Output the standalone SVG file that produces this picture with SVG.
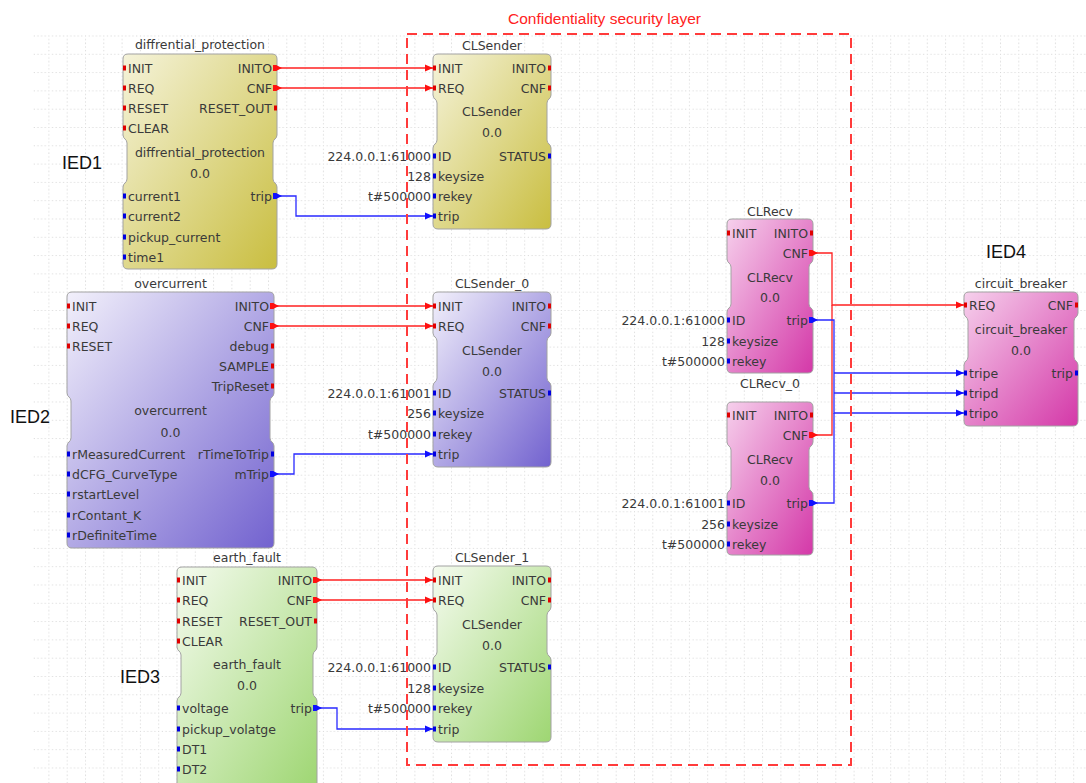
<svg xmlns="http://www.w3.org/2000/svg" width="1086" height="783" viewBox="0 0 1086 783">
<style>
.t{font-family:"DejaVu Sans",sans-serif;font-size:12.5px;fill:#3a3a3a}
.m{text-anchor:middle}
.e{text-anchor:end}
.ied{font-family:"Liberation Sans",Arial,sans-serif;font-size:18px;fill:#111}
.ttl{font-family:"Liberation Sans",Arial,sans-serif;font-size:15.5px;fill:#ff2222}
.blk{stroke:#a2a2a2;stroke-width:1}
.ev{fill:#e00000}
.dt{fill:#0000e0}
.cr{fill:none;stroke:#ff2020;stroke-width:1.3}
.cb{fill:none;stroke:#2a2aff;stroke-width:1.3}
</style>
<defs>
<linearGradient id="gY" x1="0" y1="0" x2="1" y2="1"><stop offset="0" stop-color="#f5f3da"/><stop offset="1" stop-color="#c9be40"/></linearGradient>
<linearGradient id="gP" x1="0" y1="0" x2="1" y2="1"><stop offset="0" stop-color="#f2f0fb"/><stop offset="1" stop-color="#7262cf"/></linearGradient>
<linearGradient id="gG" x1="0" y1="0" x2="1" y2="1"><stop offset="0" stop-color="#f5fbef"/><stop offset="1" stop-color="#9ed672"/></linearGradient>
<linearGradient id="gM" x1="0" y1="0" x2="1" y2="1"><stop offset="0" stop-color="#f6d0ec"/><stop offset="1" stop-color="#d438a8"/></linearGradient>
<pattern id="grid" width="18.3" height="18.3" patternUnits="userSpaceOnUse" x="11.8" y="17.2">
<line x1="0" y1="0.5" x2="18.3" y2="0.5" stroke="#d4d4d4" stroke-width="1" stroke-dasharray="1 2.66"/>
<line x1="0.5" y1="0" x2="0.5" y2="18.3" stroke="#d4d4d4" stroke-width="1" stroke-dasharray="1 2.66"/>
</pattern>
<marker id="aR" markerUnits="userSpaceOnUse" markerWidth="9" markerHeight="9" refX="8" refY="4.5" orient="auto"><path d="M0,1 L8,4.5 L0,8 Z" fill="#ff1010"/></marker>
<marker id="aB" markerUnits="userSpaceOnUse" markerWidth="9" markerHeight="9" refX="8" refY="4.5" orient="auto"><path d="M0,1 L8,4.5 L0,8 Z" fill="#1010ff"/></marker>
<marker id="sR" markerUnits="userSpaceOnUse" markerWidth="10" markerHeight="9" refX="2" refY="4.5" orient="auto"><path d="M0,1.5 L3,1.5 L9,4.5 L3,7.5 L0,7.5 Z" fill="#ff1010"/></marker>
<marker id="sB" markerUnits="userSpaceOnUse" markerWidth="10" markerHeight="9" refX="2" refY="4.5" orient="auto"><path d="M0,1.5 L3,1.5 L9,4.5 L3,7.5 L0,7.5 Z" fill="#1010ff"/></marker>
</defs>
<rect width="1086" height="783" fill="#ffffff"/>
<rect x="33" y="35" width="1053" height="748" fill="url(#grid)"/>

<text class="ied" x="62" y="169">IED1</text>
<text class="ied" x="10" y="423">IED2</text>
<text class="ied" x="120" y="683">IED3</text>
<text class="ied" x="986" y="258">IED4</text>

<g id="diffrential_protection">
<text class="t m" x="200" y="49">diffrential_protection</text>
<path class="blk" fill="url(#gY)" d="M128,54 H272 Q277,54 277,59 V135 C277,139 273,139 273,143 V179 C273,183 277,183 277,187 V264 Q277,269 272,269 H128 Q123,269 123,264 V187 C123,183 127,183 127,179 V143 C127,139 123,139 123,135 V59 Q123,54 128,54 Z"/>
<rect class="ev" x="123" y="65.5" width="3" height="5"/><rect class="ev" x="123" y="85.5" width="3" height="5"/><rect class="ev" x="123" y="105.5" width="3" height="5"/><rect class="ev" x="123" y="125.5" width="3" height="5"/>
<rect class="ev" x="274" y="65.5" width="3" height="5"/><rect class="ev" x="274" y="85.5" width="3" height="5"/><rect class="ev" x="274" y="105.5" width="3" height="5"/>
<rect class="dt" x="123" y="193.5" width="3" height="5"/><rect class="dt" x="123" y="213.5" width="3" height="5"/><rect class="dt" x="123" y="234.5" width="3" height="5"/><rect class="dt" x="123" y="254.5" width="3" height="5"/>
<rect class="dt" x="274" y="193.5" width="3" height="5"/>
<text class="t" x="128" y="72.5">INIT</text><text class="t" x="128" y="92.5">REQ</text><text class="t" x="128" y="112.5">RESET</text><text class="t" x="128" y="132.5">CLEAR</text>
<text class="t e" x="272" y="72.5">INITO</text><text class="t e" x="272" y="92.5">CNF</text><text class="t e" x="272" y="112.5">RESET_OUT</text>
<text class="t m" x="200" y="156.5">diffrential_protection</text><text class="t m" x="200" y="177.5">0.0</text>
<text class="t" x="128" y="200.5">current1</text><text class="t" x="128" y="220.5">current2</text><text class="t" x="128" y="241.5">pickup_current</text><text class="t" x="128" y="261.5">time1</text>
<text class="t e" x="272" y="200.5">trip</text>
</g>

<g id="overcurrent">
<text class="t m" x="170.5" y="287.5">overcurrent</text>
<path class="blk" fill="url(#gP)" d="M72,292 H269 Q274,292 274,297 V393 C274,397 270,397 270,401 V438 C270,442 274,442 274,446 V543 Q274,548 269,548 H72 Q67,548 67,543 V446 C67,442 71,442 71,438 V401 C71,397 67,397 67,393 V297 Q67,292 72,292 Z"/>
<rect class="ev" x="67" y="303.5" width="3" height="5"/><rect class="ev" x="67" y="323.5" width="3" height="5"/><rect class="ev" x="67" y="343.5" width="3" height="5"/>
<rect class="ev" x="271" y="303.5" width="3" height="5"/><rect class="ev" x="271" y="323.5" width="3" height="5"/><rect class="ev" x="271" y="343.5" width="3" height="5"/><rect class="ev" x="271" y="363.5" width="3" height="5"/><rect class="ev" x="271" y="383.5" width="3" height="5"/>
<rect class="dt" x="67" y="451.5" width="3" height="5"/><rect class="dt" x="67" y="471.5" width="3" height="5"/><rect class="dt" x="67" y="491.5" width="3" height="5"/><rect class="dt" x="67" y="512.5" width="3" height="5"/><rect class="dt" x="67" y="532.5" width="3" height="5"/>
<rect class="dt" x="271" y="451.5" width="3" height="5"/><rect class="dt" x="271" y="471.5" width="3" height="5"/>
<text class="t" x="72" y="310.5">INIT</text><text class="t" x="72" y="330.5">REQ</text><text class="t" x="72" y="350.5">RESET</text>
<text class="t e" x="269" y="310.5">INITO</text><text class="t e" x="269" y="330.5">CNF</text><text class="t e" x="269" y="350.5">debug</text><text class="t e" x="269" y="370.5">SAMPLE</text><text class="t e" x="269" y="390.5">TripReset</text>
<text class="t m" x="170.5" y="414.5">overcurrent</text><text class="t m" x="170.5" y="436.5">0.0</text>
<text class="t" x="72" y="458.5">rMeasuredCurrent</text><text class="t" x="72" y="478.5">dCFG_CurveType</text><text class="t" x="72" y="498.5">rstartLevel</text><text class="t" x="72" y="519.5">rContant_K</text><text class="t" x="72" y="539.5">rDefiniteTime</text>
<text class="t e" x="269" y="458.5">rTimeToTrip</text><text class="t e" x="269" y="478.5">mTrip</text>
</g>

<g id="earth_fault">
<text class="t m" x="247" y="561.5">earth_fault</text>
<path class="blk" fill="url(#gG)" d="M182,567 H312 Q317,567 317,572 V647 C317,651 313,651 313,655 V693 C313,697 317,697 317,701 V785 Q317,790 312,790 H182 Q177,790 177,785 V701 C177,697 181,697 181,693 V655 C181,651 177,651 177,647 V572 Q177,567 182,567 Z"/>
<rect class="ev" x="177" y="577.5" width="3" height="5"/><rect class="ev" x="177" y="597.5" width="3" height="5"/><rect class="ev" x="177" y="618.5" width="3" height="5"/><rect class="ev" x="177" y="638.5" width="3" height="5"/>
<rect class="ev" x="314" y="577.5" width="3" height="5"/><rect class="ev" x="314" y="597.5" width="3" height="5"/><rect class="ev" x="314" y="618.5" width="3" height="5"/>
<rect class="dt" x="177" y="705.5" width="3" height="5"/><rect class="dt" x="177" y="726.5" width="3" height="5"/><rect class="dt" x="177" y="746.5" width="3" height="5"/><rect class="dt" x="177" y="766.5" width="3" height="5"/>
<rect class="dt" x="314" y="705.5" width="3" height="5"/>
<text class="t" x="182" y="584.5">INIT</text><text class="t" x="182" y="604.5">REQ</text><text class="t" x="182" y="625.5">RESET</text><text class="t" x="182" y="645.5">CLEAR</text>
<text class="t e" x="312" y="584.5">INITO</text><text class="t e" x="312" y="604.5">CNF</text><text class="t e" x="312" y="625.5">RESET_OUT</text>
<text class="t m" x="247" y="668.5">earth_fault</text><text class="t m" x="247" y="689.5">0.0</text>
<text class="t" x="182" y="712.5">voltage</text><text class="t" x="182" y="733.5">pickup_volatge</text><text class="t" x="182" y="753.5">DT1</text><text class="t" x="182" y="773.5">DT2</text>
<text class="t e" x="312" y="712.5">trip</text>
</g>

<g id="CLSender">
<text class="t m" x="492" y="49.5">CLSender</text>
<path class="blk" fill="url(#gY)" d="M438,54 H546 Q551,54 551,59 V95 C551,99 547,99 547,103 V140 C547,144 551,144 551,148 V224 Q551,229 546,229 H438 Q433,229 433,224 V148 C433,144 437,144 437,140 V103 C437,99 433,99 433,95 V59 Q433,54 438,54 Z"/>
<rect class="ev" x="433" y="65.5" width="3" height="5"/><rect class="ev" x="433" y="85.5" width="3" height="5"/>
<rect class="ev" x="548" y="65.5" width="3" height="5"/><rect class="ev" x="548" y="85.5" width="3" height="5"/>
<rect class="dt" x="433" y="153.5" width="3" height="5"/><rect class="dt" x="433" y="173.5" width="3" height="5"/><rect class="dt" x="433" y="193.5" width="3" height="5"/><rect class="dt" x="433" y="213.5" width="3" height="5"/>
<rect class="dt" x="548" y="153.5" width="3" height="5"/>
<text class="t" x="438" y="72.5">INIT</text><text class="t" x="438" y="92.5">REQ</text>
<text class="t e" x="546" y="72.5">INITO</text><text class="t e" x="546" y="92.5">CNF</text>
<text class="t m" x="492" y="115.5">CLSender</text><text class="t m" x="492" y="136.5">0.0</text>
<text class="t" x="438" y="160.5">ID</text><text class="t" x="438" y="180.5">keysize</text><text class="t" x="438" y="200.5">rekey</text><text class="t" x="438" y="220.5">trip</text>
<text class="t e" x="546" y="160.5">STATUS</text>
<text class="t e" x="431" y="160.5">224.0.0.1:61000</text><text class="t e" x="431" y="180.5">128</text><text class="t e" x="431" y="200.5">t#500000</text>
</g>

<g id="CLSender_0">
<text class="t m" x="492" y="287.5">CLSender_0</text>
<path class="blk" fill="url(#gP)" d="M438,292 H546 Q551,292 551,297 V333 C551,337 547,337 547,341 V378 C547,382 551,382 551,386 V462 Q551,467 546,467 H438 Q433,467 433,462 V386 C433,382 437,382 437,378 V341 C437,337 433,337 433,333 V297 Q433,292 438,292 Z"/>
<rect class="ev" x="433" y="303.5" width="3" height="5"/><rect class="ev" x="433" y="323.5" width="3" height="5"/>
<rect class="ev" x="548" y="303.5" width="3" height="5"/><rect class="ev" x="548" y="323.5" width="3" height="5"/>
<rect class="dt" x="433" y="390.5" width="3" height="5"/><rect class="dt" x="433" y="410.5" width="3" height="5"/><rect class="dt" x="433" y="431.5" width="3" height="5"/><rect class="dt" x="433" y="451.5" width="3" height="5"/>
<rect class="dt" x="548" y="390.5" width="3" height="5"/>
<text class="t" x="438" y="310.5">INIT</text><text class="t" x="438" y="330.5">REQ</text>
<text class="t e" x="546" y="310.5">INITO</text><text class="t e" x="546" y="330.5">CNF</text>
<text class="t m" x="492" y="354.5">CLSender</text><text class="t m" x="492" y="375.5">0.0</text>
<text class="t" x="438" y="397.5">ID</text><text class="t" x="438" y="417.5">keysize</text><text class="t" x="438" y="438.5">rekey</text><text class="t" x="438" y="458.5">trip</text>
<text class="t e" x="546" y="397.5">STATUS</text>
<text class="t e" x="431" y="397.5">224.0.0.1:61001</text><text class="t e" x="431" y="417.5">256</text><text class="t e" x="431" y="438.5">t#500000</text>
</g>

<g id="CLSender_1">
<text class="t m" x="492" y="561.5">CLSender_1</text>
<path class="blk" fill="url(#gG)" d="M438,566 H546 Q551,566 551,571 V607 C551,611 547,611 547,615 V652 C547,656 551,656 551,660 V737 Q551,742 546,742 H438 Q433,742 433,737 V660 C433,656 437,656 437,652 V615 C437,611 433,611 433,607 V571 Q433,566 438,566 Z"/>
<rect class="ev" x="433" y="577.5" width="3" height="5"/><rect class="ev" x="433" y="597.5" width="3" height="5"/>
<rect class="ev" x="548" y="577.5" width="3" height="5"/><rect class="ev" x="548" y="597.5" width="3" height="5"/>
<rect class="dt" x="433" y="664.5" width="3" height="5"/><rect class="dt" x="433" y="685.5" width="3" height="5"/><rect class="dt" x="433" y="705.5" width="3" height="5"/><rect class="dt" x="433" y="726.5" width="3" height="5"/>
<rect class="dt" x="548" y="664.5" width="3" height="5"/>
<text class="t" x="438" y="584.5">INIT</text><text class="t" x="438" y="604.5">REQ</text>
<text class="t e" x="546" y="584.5">INITO</text><text class="t e" x="546" y="604.5">CNF</text>
<text class="t m" x="492" y="628.5">CLSender</text><text class="t m" x="492" y="649.5">0.0</text>
<text class="t" x="438" y="671.5">ID</text><text class="t" x="438" y="692.5">keysize</text><text class="t" x="438" y="712.5">rekey</text><text class="t" x="438" y="733.5">trip</text>
<text class="t e" x="546" y="671.5">STATUS</text>
<text class="t e" x="431" y="671.5">224.0.0.1:61000</text><text class="t e" x="431" y="692.5">128</text><text class="t e" x="431" y="712.5">t#500000</text>
</g>

<g id="CLRecv">
<text class="t m" x="770" y="215.5">CLRecv</text>
<path class="blk" fill="url(#gM)" d="M732,219 H808 Q813,219 813,224 V259 C813,263 809,263 809,267 V304 C809,308 813,308 813,312 V368 Q813,373 808,373 H732 Q727,373 727,368 V312 C727,308 731,308 731,304 V267 C731,263 727,263 727,259 V224 Q727,219 732,219 Z"/>
<rect class="ev" x="727" y="230.5" width="3" height="5"/>
<rect class="ev" x="810" y="230.5" width="3" height="5"/><rect class="ev" x="810" y="250.5" width="3" height="5"/>
<rect class="dt" x="727" y="317.5" width="3" height="5"/><rect class="dt" x="727" y="338.5" width="3" height="5"/><rect class="dt" x="727" y="358.5" width="3" height="5"/>
<rect class="dt" x="810" y="317.5" width="3" height="5"/>
<text class="t" x="732" y="237.5">INIT</text>
<text class="t e" x="808" y="237.5">INITO</text><text class="t e" x="808" y="257.5">CNF</text>
<text class="t m" x="770" y="281.5">CLRecv</text><text class="t m" x="770" y="301.5">0.0</text>
<text class="t" x="732" y="324.5">ID</text><text class="t" x="732" y="345.5">keysize</text><text class="t" x="732" y="365.5">rekey</text>
<text class="t e" x="808" y="324.5">trip</text>
<text class="t e" x="725" y="324.5">224.0.0.1:61000</text><text class="t e" x="725" y="345.5">128</text><text class="t e" x="725" y="365.5">t#500000</text>
</g>

<g id="CLRecv_0">
<text class="t m" x="770" y="387.5">CLRecv_0</text>
<path class="blk" fill="url(#gM)" d="M732,402 H808 Q813,402 813,407 V442 C813,446 809,446 809,450 V487 C809,491 813,491 813,495 V550 Q813,555 808,555 H732 Q727,555 727,550 V495 C727,491 731,491 731,487 V450 C731,446 727,446 727,442 V407 Q727,402 732,402 Z"/>
<rect class="ev" x="727" y="412.5" width="3" height="5"/>
<rect class="ev" x="810" y="412.5" width="3" height="5"/><rect class="ev" x="810" y="432.5" width="3" height="5"/>
<rect class="dt" x="727" y="500.5" width="3" height="5"/><rect class="dt" x="727" y="521.5" width="3" height="5"/><rect class="dt" x="727" y="541.5" width="3" height="5"/>
<rect class="dt" x="810" y="500.5" width="3" height="5"/>
<text class="t" x="732" y="419.5">INIT</text>
<text class="t e" x="808" y="419.5">INITO</text><text class="t e" x="808" y="439.5">CNF</text>
<text class="t m" x="770" y="463.5">CLRecv</text><text class="t m" x="770" y="484.5">0.0</text>
<text class="t" x="732" y="507.5">ID</text><text class="t" x="732" y="528.5">keysize</text><text class="t" x="732" y="548.5">rekey</text>
<text class="t e" x="808" y="507.5">trip</text>
<text class="t e" x="725" y="507.5">224.0.0.1:61001</text><text class="t e" x="725" y="528.5">256</text><text class="t e" x="725" y="548.5">t#500000</text>
</g>

<g id="circuit_breaker">
<text class="t m" x="1021" y="287.5">circuit_breaker</text>
<path class="blk" fill="url(#gM)" d="M969,292 H1073 Q1078,292 1078,297 V313 C1078,317 1074,317 1074,321 V357 C1074,361 1078,361 1078,365 V421 Q1078,426 1073,426 H969 Q964,426 964,421 V365 C964,361 968,361 968,357 V321 C968,317 964,317 964,313 V297 Q964,292 969,292 Z"/>
<rect class="ev" x="964" y="302.5" width="3" height="5"/>
<rect class="ev" x="1075" y="302.5" width="3" height="5"/>
<rect class="dt" x="964" y="370.5" width="3" height="5"/><rect class="dt" x="964" y="390.5" width="3" height="5"/><rect class="dt" x="964" y="410.5" width="3" height="5"/>
<rect class="dt" x="1075" y="370.5" width="3" height="5"/>
<text class="t" x="969" y="309.5">REQ</text>
<text class="t e" x="1073" y="309.5">CNF</text>
<text class="t m" x="1021" y="333.5">circuit_breaker</text><text class="t m" x="1021" y="354.5">0.0</text>
<text class="t" x="969" y="377.5">tripe</text><text class="t" x="969" y="397.5">tripd</text><text class="t" x="969" y="417.5">tripo</text>
<text class="t e" x="1073" y="377.5">trip</text>
</g>

<g id="connectors">
<path class="cr" d="M275,68 H433" marker-start="url(#sR)" marker-end="url(#aR)"/>
<path class="cr" d="M275,88 H433" marker-start="url(#sR)" marker-end="url(#aR)"/>
<path class="cr" d="M272,306 H433" marker-start="url(#sR)" marker-end="url(#aR)"/>
<path class="cr" d="M272,326 H433" marker-start="url(#sR)" marker-end="url(#aR)"/>
<path class="cr" d="M315,580 H433" marker-start="url(#sR)" marker-end="url(#aR)"/>
<path class="cr" d="M315,600 H433" marker-start="url(#sR)" marker-end="url(#aR)"/>
<path class="cb" d="M275,196 H296 V216 H433" marker-start="url(#sB)" marker-end="url(#aB)"/>
<path class="cb" d="M272,474 H294 V454 H433" marker-start="url(#sB)" marker-end="url(#aB)"/>
<path class="cb" d="M315,708 H337 V729 H433" marker-start="url(#sB)" marker-end="url(#aB)"/>
<path class="cr" d="M811,253 H832 V305 H964" marker-start="url(#sR)" marker-end="url(#aR)"/>
<path class="cr" d="M811,435 H832 V305" marker-start="url(#sR)"/>
<path class="cb" d="M811,320 H834 V413 H964" marker-start="url(#sB)" marker-end="url(#aB)"/>
<path class="cb" d="M811,503 H834 V413" marker-start="url(#sB)"/>
<path class="cb" d="M834,373 H964" marker-end="url(#aB)"/>
<path class="cb" d="M834,393 H964" marker-end="url(#aB)"/>
</g>

<g id="security_layer">
<rect x="407" y="34" width="444" height="731" fill="none" stroke="#ff3b3b" stroke-width="2" stroke-dasharray="10 6"/>
<text class="ttl" x="508" y="24">Confidentiality security layer</text>
</g>
</svg>
